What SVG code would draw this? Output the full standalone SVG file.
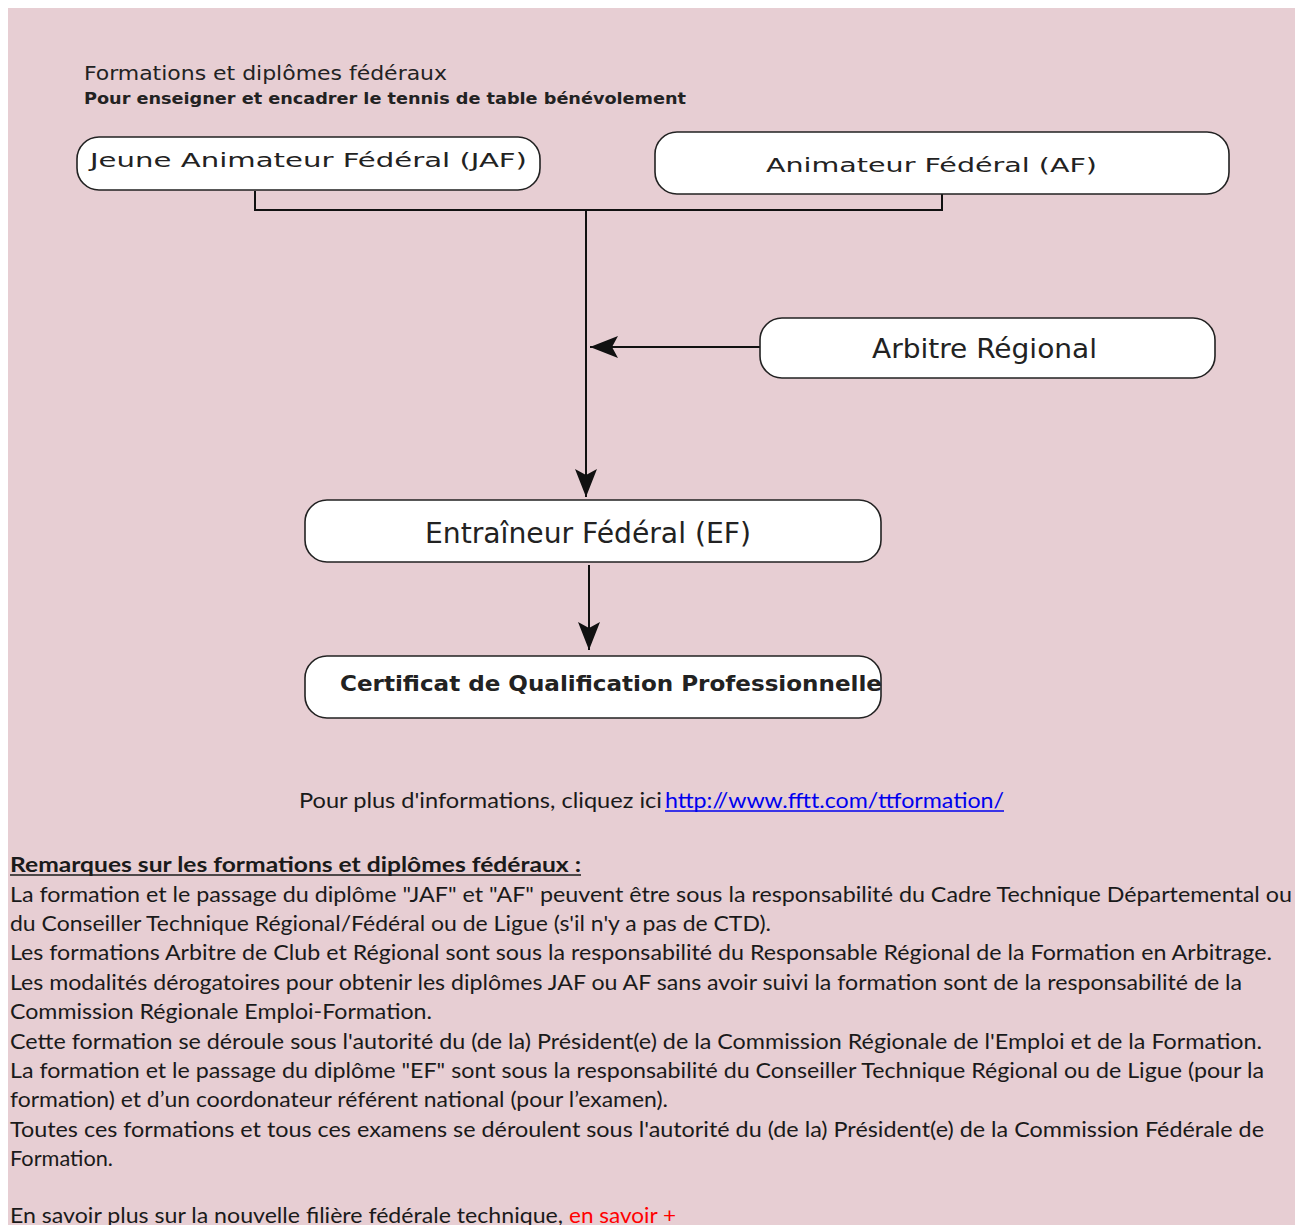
<svg xmlns="http://www.w3.org/2000/svg" width="1297" height="1225" viewBox="0 0 1297 1225">
<style>
.node rect{fill:#fff;stroke:#222;stroke-width:1.6}
.dv{font-family:"DejaVu Sans",Verdana,sans-serif;fill:#222}
.tah{font-family:"DejaVu Sans Condensed","DejaVu Sans",sans-serif;fill:#222}
.body{font-family:Lato,"Open Sans",sans-serif;font-size:21px;fill:#1a1a1a}
.conn line,.conn path{stroke:#111;stroke-width:2;fill:none}
</style>
<defs>
<marker id="ah" markerUnits="userSpaceOnUse" markerWidth="30" markerHeight="24" refX="28" refY="11" orient="auto">
<path d="M0,0 L28,11 L0,22 L6,11 z" fill="#111"/>
</marker>
</defs>
<rect x="0" y="0" width="1297" height="1225" fill="#fff"/>
<rect x="8" y="8" width="1287" height="1217" fill="#e7ced3"/>

<g id="title">
<text class="tah" x="84" y="80" font-size="19" textLength="363" lengthAdjust="spacingAndGlyphs">Formations et diplômes fédéraux</text>
<text class="tah" x="84" y="104" font-size="16" font-weight="bold" textLength="602" lengthAdjust="spacingAndGlyphs">Pour enseigner et encadrer le tennis de table bénévolement</text>
</g>

<g class="conn" id="connectors">
<path d="M255,191 V210 H942 V194"/>
<line x1="586" y1="210" x2="586" y2="497" marker-end="url(#ah)"/>
<line x1="760" y1="347" x2="590" y2="347" marker-end="url(#ah)"/>
<line x1="589" y1="565" x2="589" y2="650" marker-end="url(#ah)"/>
</g>

<g class="node" id="jaf">
<rect x="77" y="137" width="463" height="53" rx="22"/>
<text class="dv" x="90" y="167" font-size="19" textLength="437" lengthAdjust="spacingAndGlyphs">Jeune Animateur Fédéral (JAF)</text>
</g>
<g class="node" id="af">
<rect x="655" y="132" width="574" height="62" rx="22"/>
<text class="dv" x="766" y="172" font-size="19" textLength="331" lengthAdjust="spacingAndGlyphs">Animateur Fédéral (AF)</text>
</g>
<g class="node" id="ar">
<rect x="760" y="318" width="455" height="60" rx="22"/>
<text class="tah" x="872" y="358" font-size="27" textLength="225" lengthAdjust="spacingAndGlyphs">Arbitre Régional</text>
</g>
<g class="node" id="ef">
<rect x="305" y="500" width="576" height="62" rx="22"/>
<text class="tah" x="425" y="543" font-size="28" textLength="326" lengthAdjust="spacingAndGlyphs">Entraîneur Fédéral (EF)</text>
</g>
<g class="node" id="cqp">
<rect x="305" y="656" width="576" height="62" rx="22"/>
<text class="tah" x="340" y="691" font-size="22" font-weight="bold" textLength="542" lengthAdjust="spacingAndGlyphs">Certificat de Qualification Professionnelle</text>
</g>

<g id="info">
<text class="body" x="299" y="808" textLength="363" lengthAdjust="spacingAndGlyphs">Pour plus d'informations, cliquez ici</text>
<text class="body" x="665" y="808" style="fill:#0000ee" textLength="339" lengthAdjust="spacingAndGlyphs">http://www.fftt.com/ttformation/</text>
<line x1="665" y1="811" x2="1004" y2="811" stroke="#0000ee" stroke-width="1.3"/>
</g>

<g id="remarks">
<text class="body" x="10" y="872" font-weight="bold" textLength="571" lengthAdjust="spacingAndGlyphs">Remarques sur les formations et diplômes fédéraux :</text>
<line x1="10" y1="875" x2="581" y2="875" stroke="#1a1a1a" stroke-width="1.5"/>
<text class="body" x="10" y="902" textLength="1282" lengthAdjust="spacingAndGlyphs">La formation et le passage du diplôme "JAF" et "AF" peuvent être sous la responsabilité du Cadre Technique Départemental ou</text>
<text class="body" x="10" y="931" textLength="761" lengthAdjust="spacingAndGlyphs">du Conseiller Technique Régional/Fédéral ou de Ligue (s'il n'y a pas de CTD).</text>
<text class="body" x="10" y="960" textLength="1262" lengthAdjust="spacingAndGlyphs">Les formations Arbitre de Club et Régional sont sous la responsabilité du Responsable Régional de la Formation en Arbitrage.</text>
<text class="body" x="10" y="990" textLength="1232" lengthAdjust="spacingAndGlyphs">Les modalités dérogatoires pour obtenir les diplômes JAF ou AF sans avoir suivi la formation sont de la responsabilité de la</text>
<text class="body" x="10" y="1019" textLength="422" lengthAdjust="spacingAndGlyphs">Commission Régionale Emploi-Formation.</text>
<text class="body" x="10" y="1049" textLength="1252" lengthAdjust="spacingAndGlyphs">Cette formation se déroule sous l'autorité du (de la) Président(e) de la Commission Régionale de l'Emploi et de la Formation.</text>
<text class="body" x="10" y="1078" textLength="1254" lengthAdjust="spacingAndGlyphs">La formation et le passage du diplôme "EF" sont sous la responsabilité du Conseiller Technique Régional ou de Ligue (pour la</text>
<text class="body" x="10" y="1107" textLength="658" lengthAdjust="spacingAndGlyphs">formation) et d’un coordonateur référent national (pour l’examen).</text>
<text class="body" x="10" y="1137" textLength="1254" lengthAdjust="spacingAndGlyphs">Toutes ces formations et tous ces examens se déroulent sous l'autorité du (de la) Président(e) de la Commission Fédérale de</text>
<text class="body" x="10" y="1166" textLength="103" lengthAdjust="spacingAndGlyphs">Formation.</text>
<text class="body" x="10" y="1223" textLength="553" lengthAdjust="spacingAndGlyphs">En savoir plus sur la nouvelle filière fédérale technique,</text>
<text class="body" x="569" y="1223" style="fill:#ff0000" textLength="107" lengthAdjust="spacingAndGlyphs">en savoir +</text>
</g>
</svg>
